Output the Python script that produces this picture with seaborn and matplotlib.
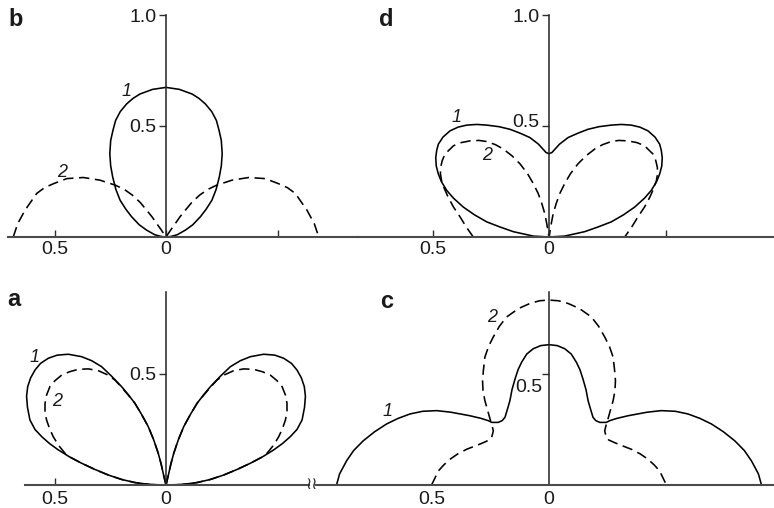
import matplotlib
matplotlib.use("Agg")
import matplotlib.pyplot as plt
import pandas as pd
import seaborn as sns
from matplotlib.transforms import ScaledTranslation

# ---------------------------------------------------------------------------
# Radiation patterns, one half of each (the other half is its mirror image).
# x = horizontal distance from the symmetry axis, y = height above the base line.
# ---------------------------------------------------------------------------

# panel b
b1_x = [0, 0.02, 0.05, 0.087, 0.12, 0.154, 0.18, 0.206, 0.225, 0.239, 0.248, 0.252,
        0.248, 0.238, 0.226, 0.205, 0.176, 0.147, 0.117, 0.06, 0]
b1_y = [0, 0.002, 0.01, 0.031, 0.055, 0.091, 0.125, 0.166, 0.215, 0.27, 0.32, 0.375,
        0.435, 0.48, 0.525, 0.565, 0.60, 0.625, 0.644, 0.665, 0.674]
b2_x = [0.685, 0.665, 0.632, 0.58, 0.545, 0.505, 0.445, 0.371, 0.296, 0.226, 0.185,
        0.15, 0.115, 0.087, 0.062, 0.042, 0.02, 0]
b2_y = [0, 0.06, 0.121, 0.196, 0.222, 0.24, 0.263, 0.268, 0.256, 0.233, 0.213,
        0.188, 0.155, 0.121, 0.09, 0.061, 0.03, 0]

# panel d
d1_x = [0, 0.067, 0.153, 0.21, 0.267, 0.32, 0.368, 0.41, 0.439, 0.462, 0.475, 0.484,
        0.486, 0.482, 0.475, 0.455, 0.425, 0.39, 0.353, 0.31, 0.267, 0.215, 0.167,
        0.125, 0.082, 0.045, 0.013, 0]
d1_y = [0, 0.004, 0.024, 0.045, 0.068, 0.1, 0.135, 0.175, 0.21, 0.25, 0.284, 0.32,
        0.358, 0.39, 0.418, 0.45, 0.478, 0.495, 0.504, 0.507, 0.504, 0.497, 0.485,
        0.468, 0.448, 0.418, 0.381, 0.375]
d2_x = [0.325, 0.355, 0.382, 0.41, 0.433, 0.45, 0.461, 0.466, 0.465, 0.458, 0.446,
        0.41, 0.378, 0.339, 0.3, 0.267, 0.23, 0.196, 0.158, 0.124, 0.092, 0.067,
        0.046, 0.031, 0.018, 0.01, 0.004, 0]
d2_y = [0, 0.045, 0.091, 0.135, 0.18, 0.22, 0.254, 0.285, 0.314, 0.345, 0.374,
        0.411, 0.425, 0.433, 0.435, 0.43, 0.416, 0.396, 0.365, 0.329, 0.285, 0.24,
        0.195, 0.151, 0.105, 0.062, 0.025, 0]

# panel a
a1_x = [0, 0.012, 0.022, 0.035, 0.056, 0.08, 0.11, 0.14, 0.17, 0.2, 0.245, 0.29,
        0.335, 0.38, 0.44, 0.49, 0.53, 0.565, 0.59, 0.61, 0.623, 0.628, 0.624, 0.613,
        0.59, 0.56, 0.525, 0.485, 0.435, 0.38, 0.32, 0.26, 0.2, 0.14, 0.07, 0]
a1_y = [0, 0.05, 0.095, 0.143, 0.205, 0.263, 0.318, 0.368, 0.407, 0.443, 0.49, 0.533,
        0.56, 0.578, 0.589, 0.585, 0.571, 0.548, 0.518, 0.482, 0.443, 0.4, 0.35, 0.293,
        0.25, 0.218, 0.187, 0.158, 0.127, 0.098, 0.07, 0.045, 0.025, 0.011, 0.002, 0]
a2_x = [0, 0.012, 0.022, 0.035, 0.056, 0.08, 0.11, 0.14, 0.17, 0.2, 0.23, 0.265,
        0.305, 0.35, 0.395, 0.435, 0.47, 0.5, 0.523, 0.538, 0.545, 0.545, 0.538,
        0.525, 0.508, 0.485, 0.455, 0.435, 0.38, 0.32, 0.26, 0.2, 0.14, 0.07, 0]
a2_y = [0, 0.05, 0.095, 0.143, 0.205, 0.263, 0.318, 0.368, 0.405, 0.44, 0.473, 0.497,
        0.515, 0.523, 0.521, 0.51, 0.495, 0.47, 0.443, 0.405, 0.368, 0.33, 0.293,
        0.255, 0.218, 0.18, 0.143, 0.127, 0.098, 0.07, 0.045, 0.025, 0.011, 0.002, 0]

# panel c
c1_x = [0.908, 0.895, 0.865, 0.835, 0.794, 0.745, 0.694, 0.645, 0.594, 0.54, 0.48,
        0.42, 0.338, 0.29, 0.26, 0.245, 0.217, 0.2, 0.188, 0.178, 0.167, 0.158, 0.145,
        0.132, 0.117, 0.095, 0.067, 0.035, 0]
c1_y = [0, 0.05, 0.109, 0.155, 0.199, 0.24, 0.275, 0.3, 0.32, 0.332, 0.335, 0.328,
        0.312, 0.3, 0.29, 0.282, 0.282, 0.29, 0.305, 0.34, 0.38, 0.43, 0.478, 0.52,
        0.553, 0.59, 0.614, 0.628, 0.632]
c2_x = [0.502, 0.488, 0.473, 0.45, 0.423, 0.39, 0.352, 0.31, 0.28, 0.255, 0.245,
        0.238, 0.244, 0.25, 0.262, 0.274, 0.282, 0.284, 0.28, 0.274, 0.258, 0.238,
        0.212, 0.181, 0.13, 0.081, 0.04, 0]
c2_y = [0, 0.03, 0.063, 0.09, 0.116, 0.14, 0.161, 0.178, 0.191, 0.203, 0.214, 0.244,
        0.27, 0.29, 0.335, 0.38, 0.425, 0.471, 0.52, 0.576, 0.625, 0.667, 0.715,
        0.757, 0.795, 0.818, 0.83, 0.833]

# ---------------------------------------------------------------------------
W, H, DPI = 774, 508, 100
sns.set_style("white")
plt.rcParams["font.family"] = ["Liberation Sans", "DejaVu Sans"]
LABEL_SIZE = 14

fig = plt.figure(figsize=(W / DPI, H / DPI), dpi=DPI)
fig.patch.set_facecolor("white")

AXIS_COLOR = "#2e2e2e"
TEXT_COLOR = "#1a1a1a"


def mirrored(hx, hy):
    """Full symmetric curve: the left half followed by the right half."""
    xs = [-v for v in hx] + list(reversed(hx))
    ys = list(hy) + list(reversed(hy))
    return pd.DataFrame({"x": xs, "y": ys})


def panel(rect, origin, sx, sy, base, vtop):
    l, t, r, b = rect
    ox, oy = origin
    ax = fig.add_axes([l / W, 1 - b / H, (r - l) / W, (b - t) / H])
    ax.set_xlim((l - ox) / sx, (r - ox) / sx)
    ax.set_ylim((oy - b) / sy, (oy - t) / sy)
    ax.patch.set_visible(False)
    for s in ("top", "right"):
        ax.spines[s].set_visible(False)
    ax.spines["bottom"].set_position(("data", 0))
    ax.spines["bottom"].set_bounds(*base)
    ax.spines["bottom"].set_color("#4a4a4a")
    ax.spines["bottom"].set_linewidth(1.5)
    ax.spines["left"].set_position(("data", 0))
    ax.spines["left"].set_bounds(0, vtop)
    ax.spines["left"].set_color("#222222")
    ax.spines["left"].set_linewidth(1.1)
    ax.tick_params(axis="x", bottom=True, direction="in", length=5, width=1.0,
                   color=AXIS_COLOR, pad=3, labelsize=LABEL_SIZE,
                   labelcolor=TEXT_COLOR)
    ax.tick_params(axis="y", left=True, direction="out", length=5, width=1.0,
                   color=AXIS_COLOR, pad=2, labelsize=LABEL_SIZE,
                   labelcolor=TEXT_COLOR)
    return ax


def draw(ax, hx, hy, dashed=False):
    df = mirrored(hx, hy)
    sns.lineplot(data=df, x="x", y="y", sort=False, estimator=None, ax=ax,
                 color="black", linewidth=1.15, clip_on=False)
    line = ax.lines[-1]
    if dashed:
        line.set_dashes((6.5, 3.5))
    ax.set_xlabel("")
    ax.set_ylabel("")


def shift_ylabel(ax, idx, dy_pt):
    lab = ax.get_yticklabels()[idx]
    lab.set_transform(lab.get_transform() +
                      ScaledTranslation(0, dy_pt / 72, fig.dpi_scale_trans))


# panel b (top left)
ax_b = panel((0, 0, 357, 254), (166, 237), 223, 222, (-0.708, 191 / 223), 1.0)
draw(ax_b, b1_x, b1_y)
draw(ax_b, b2_x, b2_y, dashed=True)
ax_b.set_xticks([-0.5, 0, 0.5], ["0.5", "0", ""])
ax_b.set_yticks([0.5, 1.0], ["0.5", "1.0"])

# panel d (top right)
ax_d = panel((357, 0, 774, 254), (549, 237), 233, 222, (-192 / 233, 225 / 233), 1.0)
draw(ax_d, d1_x, d1_y)
draw(ax_d, d2_x, d2_y, dashed=True)
ax_d.set_xticks([-0.5, 0, 0.5], ["0.5", "0", ""])
ax_d.set_yticks([0.5, 1.0], ["0.5", "1.0"])
shift_ylabel(ax_d, 0, 4)

# panel a (bottom left)
ax_a = panel((0, 254, 309, 508), (166, 485), 222, 222, (-0.635, 143 / 222), 0.87)
draw(ax_a, a1_x, a1_y)
draw(ax_a, a2_x, a2_y, dashed=True)
ax_a.set_xticks([-0.5, 0], ["0.5", "0"])
ax_a.tick_params(axis="x", pad=4)
ax_a.set_yticks([0.5], ["0.5"])

# panel c (bottom right)
ax_c = panel((316, 254, 774, 508), (549, 485), 234, 222, (-233 / 234, 225 / 234), 0.87)
draw(ax_c, c1_x, c1_y)
draw(ax_c, c2_x, c2_y, dashed=True)
ax_c.set_xticks([-0.5, 0], ["0.5", "0"])
ax_c.tick_params(axis="x", length=0, pad=4)
ax_c.set_yticks([0.5], ["0.5"])
ax_c.tick_params(axis="y", pad=0)
shift_ylabel(ax_c, 0, -8)


def fig_text(px, py, s, **kw):
    fig.text(px / W, 1 - py / H, s, ha="center", va="center", **kw)


# panel letters
for letter, (px, py) in {"b": (16, 19), "d": (386, 20), "a": (14, 299), "c": (387, 302)}.items():
    fig_text(px, py, letter, fontsize=17, fontweight="bold", color=TEXT_COLOR)

# curve numbers
curve_labels = [("1", 127, 92), ("2", 62, 172), ("1", 457, 117), ("2", 487, 155),
                ("1", 35, 358), ("2", 57, 402), ("1", 388, 412), ("2", 492, 318)]
for s, px, py in curve_labels:
    fig_text(px, py, s, fontsize=13, fontstyle="italic", color=TEXT_COLOR)

# axis break between panels a and c
fig_text(312, 484, "\u2240\u2240", fontsize=12, family=["DejaVu Sans"],
         color=AXIS_COLOR)

fig.savefig("out.png", dpi=DPI, facecolor="white")
